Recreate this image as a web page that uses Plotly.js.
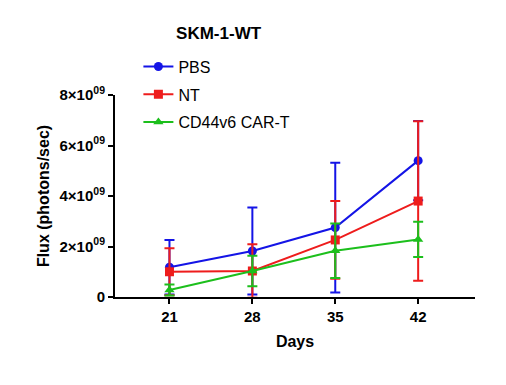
<!DOCTYPE html>
<html><head><meta charset="utf-8">
<script src="https://cdn.plot.ly/plotly-3.0.1.min.js"></script>
<style>body{margin:0;background:#fff}</style>
</head><body><div id="chart" style="width:506px;height:385px"></div>
<script>
const days = [21, 28, 35, 42];
const pbs = [1.18e9, 1.82e9, 2.75e9, 5.4e9];
const pbsErr = [1.08e9, 1.72e9, 2.57e9, 1.57e9];
const nt = [1.0e9, 1.03e9, 2.26e9, 3.8e9];
const ntErr = [0.93e9, 1.06e9, 1.54e9, 3.16e9];
const car = [0.28e9, 1.03e9, 1.83e9, 2.28e9];
const carErr = [0.22e9, 0.6e9, 1.08e9, 0.7e9];
const yTickVals = [0, 2e9, 4e9, 6e9, 8e9];
const yTickText = ['0', '2×10<sup>09</sup>', '4×10<sup>09</sup>', '6×10<sup>09</sup>', '8×10<sup>09</sup>'];

function tr(name, y, err, color, symbol, g) {
  return {
    x: days, y: y, name: name, type: 'scatter', mode: 'lines+markers',
    legendgroup: g,
    line: {color: color, width: 2},
    marker: {color: color, symbol: symbol, size: 9},
    error_y: {type: 'data', array: err, visible: true, color: color, thickness: 2, width: 5}
  };
}
const data = [
  tr('PBS', pbs, pbsErr, '#1414e6', 'circle', 'a'),
  tr('NT', nt, ntErr, '#ee1c1c', 'square', 'b'),
  tr('CD44v6 CAR-T', car, carErr, '#1cbf1c', 'triangle-up', 'c')
];
const font = {family: 'Liberation Sans, Arial, sans-serif', color: '#000'};
const layout = {
  width: 506, height: 385,
  margin: {l: 115, r: 31, t: 95, b: 88},
  paper_bgcolor: '#fff', plot_bgcolor: '#fff',
  showlegend: true,
  font: font,
  title: {text: '<b>SKM-1-WT</b>', x: 0.432, xanchor: 'center', y: 0.914, yanchor: 'middle',
          font: {family: font.family, size: 17, color: '#000'}},
  legend: {x: 0.065, xanchor: 'left', y: 1.225, yanchor: 'top', traceorder: 'grouped', tracegroupgap: 4,
           font: {family: font.family, size: 16, color: '#000'}, bgcolor: 'rgba(0,0,0,0)'},
  xaxis: {
    range: [16.4, 46.8], tickvals: days, ticktext: days.map(String),
    showgrid: false, zeroline: false, showline: true, linecolor: '#000', linewidth: 2,
    ticks: 'outside', ticklen: 5, tickwidth: 2, tickcolor: '#000',
    tickfont: {family: font.family, size: 15, color: '#000', weight: 'bold'},
    title: {text: '<b>Days</b>', font: {family: font.family, size: 16, color: '#000'}, standoff: 12}
  },
  yaxis: {
    range: [0, 8e9], tickvals: yTickVals, ticktext: yTickText,
    showgrid: false, zeroline: false, showline: true, linecolor: '#000', linewidth: 2,
    ticks: 'outside', ticklen: 5, tickwidth: 2, tickcolor: '#000',
    tickfont: {family: font.family, size: 15, color: '#000', weight: 'bold'},
    title: {text: '<b>Flux (photons/sec)</b>', font: {family: font.family, size: 16, color: '#000'}, standoff: 6}
  }
};
Plotly.newPlot('chart', data, layout, {displayModeBar: false, staticPlot: true});
</script></body></html>
